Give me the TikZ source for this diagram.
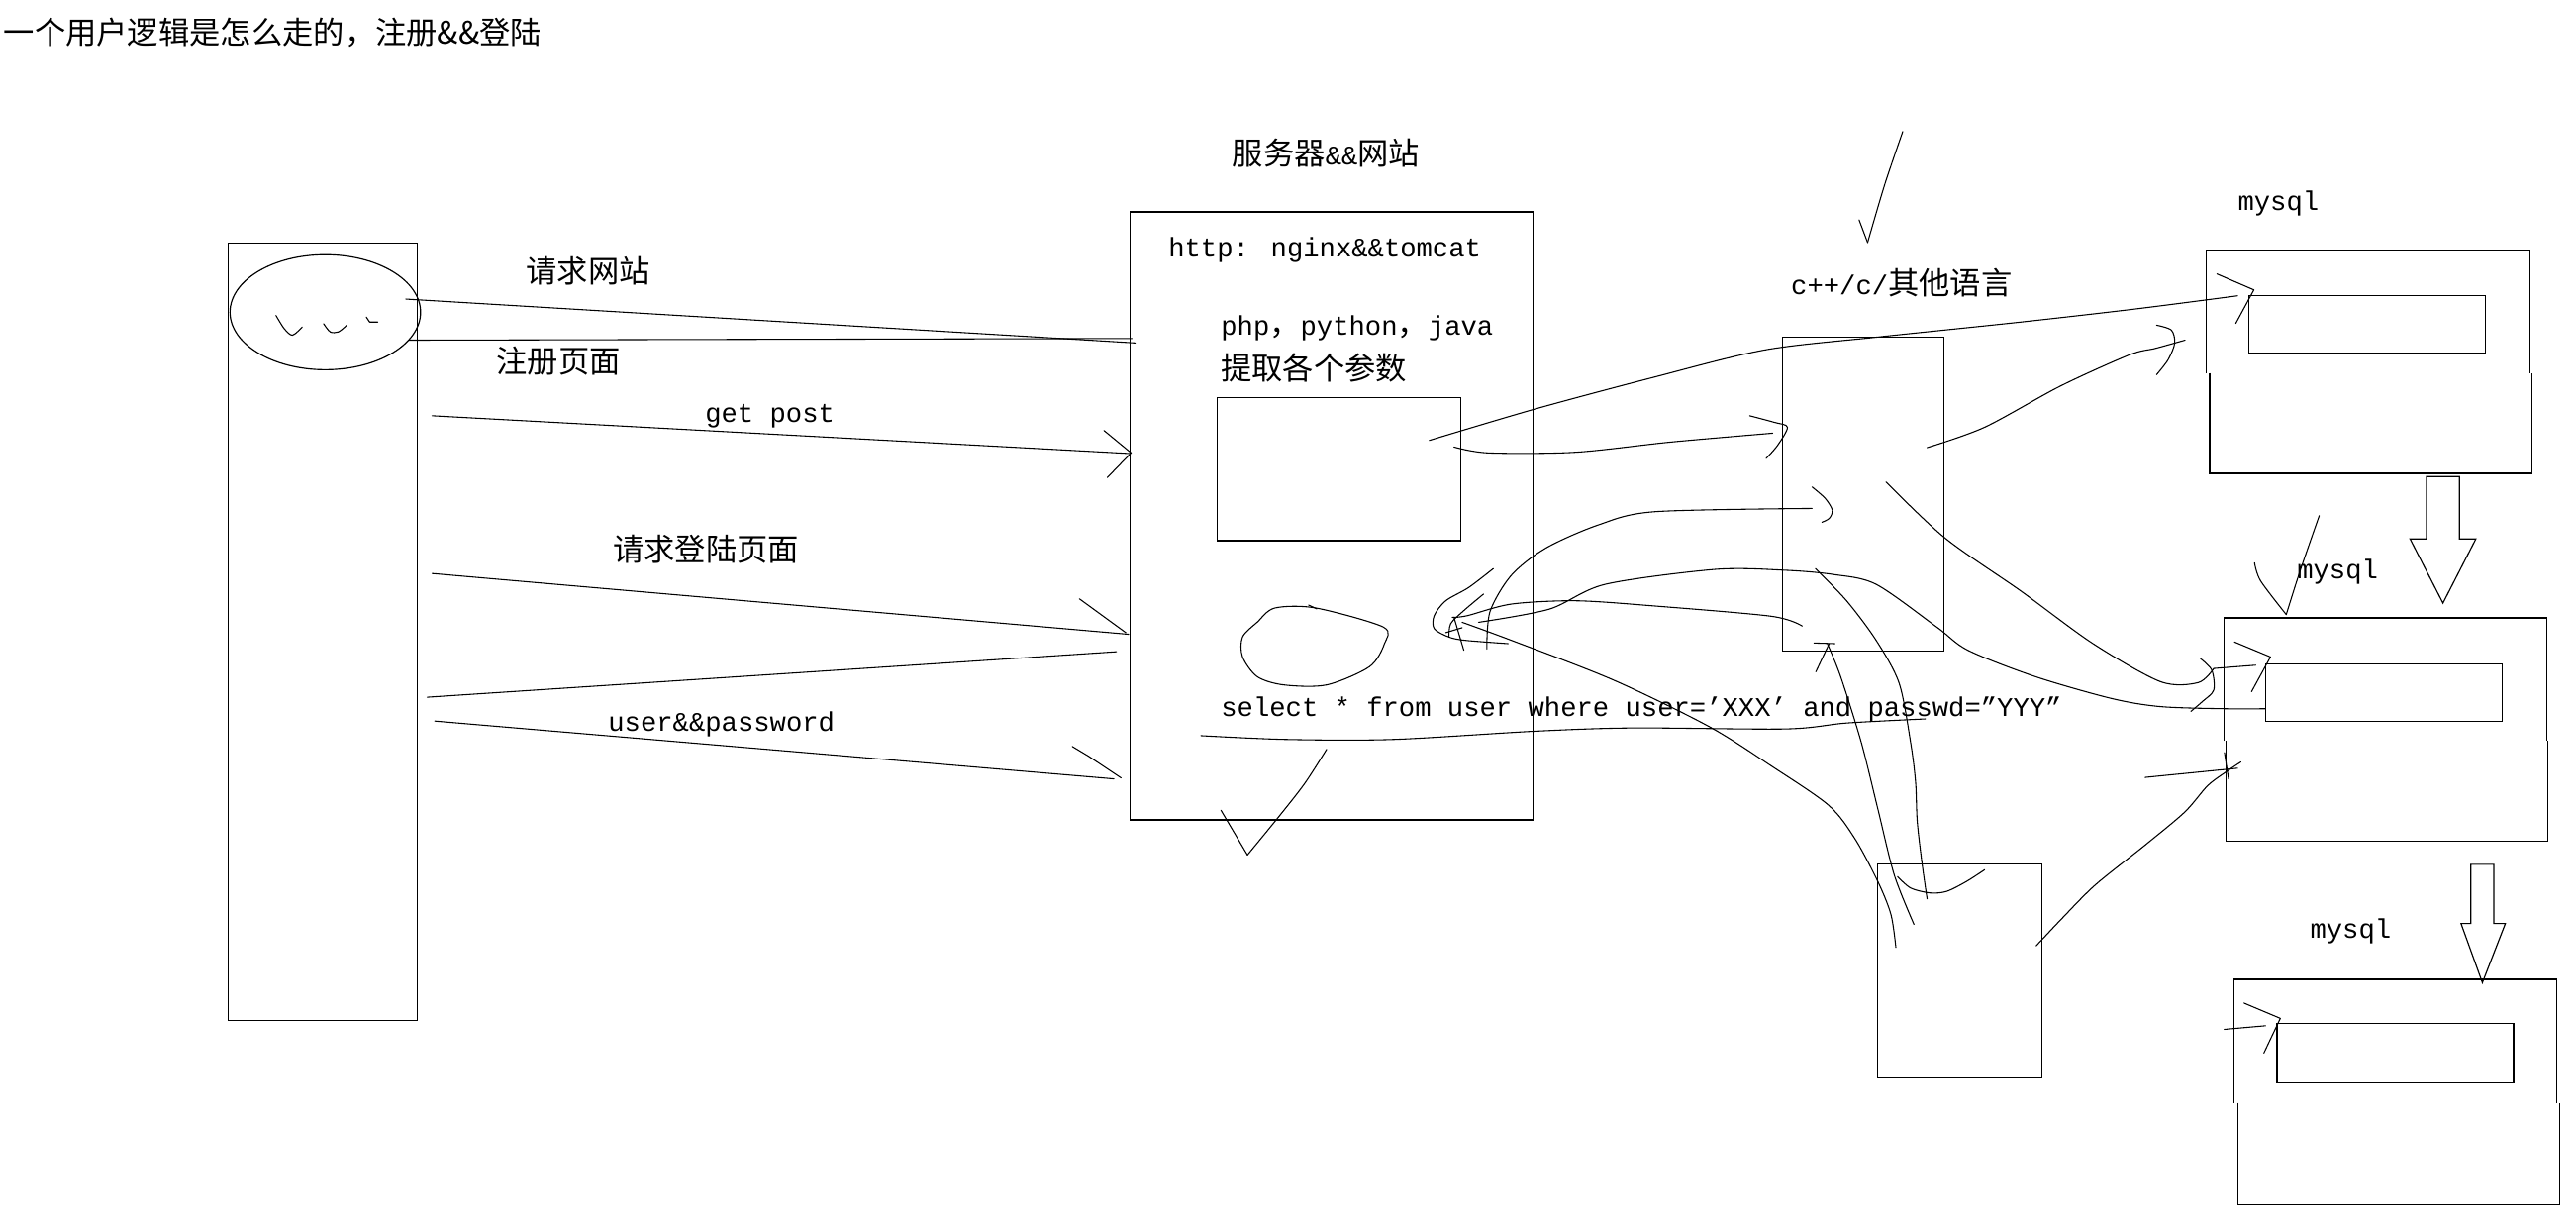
\documentclass[tikz,border=0pt]{standalone}
\usepackage{fontspec}
\setmainfont{Liberation Mono}
\newfontfamily\cjk{Noto Sans CJK SC}[Scale=1.15]
\usetikzlibrary{fit, shapes.geometric}

\begin{document}
\begin{tikzpicture}[
  x=0.3mm, y=-0.3mm,
  box/.style={draw, line width=0.6pt, inner sep=0pt},
  frame/.style={line width=0.6pt},
  lbl/.style={anchor=west, inner sep=0pt, font=\fontsize{14}{16}\selectfont},
  hand/.style={line width=0.55pt, line cap=round, line join=round},
]
  \useasboundingbox (0,0) rectangle (1568,739);

  % labels
  \node[lbl] (title)  at (2,20)    {\cjk 一个用户逻辑是怎么走的，注册\&\&登陆};
  \node[lbl] (srvlbl) at (750,93)  {{\cjk 服务器}\&\&{\cjk 网站}};
  \node[lbl] (req)    at (320,165) {\cjk 请求网站};
  \node[lbl] (reg)    at (302,220) {\cjk 注册页面};
  \node[lbl] (getpost) at (429,253) {get post};
  \node[lbl] (reqlog) at (373,334) {\cjk 请求登陆页面};
  \node[lbl] (userpw) at (370,441) {user\&\&password};
  \node[lbl] (http)   at (711,152) {http: nginx\&\&tomcat};
  \node[lbl] (langs)  at (743,200) {php{\cjk ，}python{\cjk ，}java};
  \node[lbl] (params) at (743,224) {\cjk 提取各个参数};
  \node[lbl] (sql)    at (743,432) {select * from user where user=’XXX’ and passwd=”YYY”};
  \node[lbl] (clang)  at (1090,172) {c++/c/{\cjk 其他语言}};
  \node[lbl] (dbA)    at (1362,124) {mysql};
  \node[lbl] (dbB)    at (1398,348) {mysql};
  \node[lbl] (dbC)    at (1406,567) {mysql};

  % boxes
  \node[box, fit={(139,148) (254,621)}] (client) {};
  \node[box, ellipse, minimum width=34.8mm, minimum height=21mm] (face) at (198,190) {};
  \node[box, fit={(688,129) (933,499)}] (server) {};
  \node[box, fit={(741,242) (889,329)}] (parse) {};
  \node[box, fit={(1085,205) (1183,396)}] (cbox) {};
  \node[box, fit={(1143,526) (1243,656)}] (lowbox) {};
  \node[box, fit={(1369,180) (1513,215)}] (tabA) {};
  \node[box, fit={(1379,404) (1523,439)}] (tabB) {};
  \node[box, fit={(1386,623) (1530,659)}] (tabC) {};

  % mysql frames, drawn in two halves
  \draw[frame] (1343,227) |- (1540,152) -- (1540,227);
  \draw[frame] (1345,227) |- (1541,288) -- (1541,227);
  \draw[frame] (1354,451) |- (1550,376) -- (1550,451);
  \draw[frame] (1355,451) |- (1551,512) -- (1551,451);
  \draw[frame] (1360,671) |- (1556,596) -- (1556,671);
  \draw[frame] (1362,671) |- (1558,733) -- (1558,671);

  % block arrows
  \draw[frame] (1477,290) -- (1477,328) -- (1467,328) -- (1487,367)
    -- (1507,328) -- (1497,328) -- (1497,290) -- cycle;
  \draw[frame] (1504,526) -- (1504,562) -- (1498,562) -- (1511,598)
    -- (1525,562) -- (1518,562) -- (1518,526) -- cycle;

  % face scribbles
  \draw[hand] plot[smooth] coordinates {(168,192) (173,200) (178,204) (184,199)};
  \draw[hand] plot[smooth] coordinates {(197,197) (201,202) (206,202) (211,198)};
  \draw[hand] (223,193) -- (225,196) -- (230,196);

  % client <-> server
  \draw[hand] (247,182) -- (691,208.7);
  \draw[hand] (249,207) -- (689,206);
  \draw[hand] (263,253) -- (688,276);
  \draw[hand] (672,262) -- (688.5,275.6) -- (674,290.6);
  \draw[hand] (263,349) -- (687,386);
  \draw[hand] (657,364.4) -- (685.4,385.1);
  \draw[hand] (260,424.3) -- (679.6,396.6);
  \draw[hand] (264.6,438.8) -- (678,474);
  \draw[hand] (652.7,454.3) -- (662.4,460.1) -- (682.4,473.4);

  % blob inside server
  \draw[hand] plot[smooth cycle] coordinates {(776,370) (801,370) (842,381.6)
    (842.7,391.7) (833.6,405.7) (807.5,416.8) (781.4,416.8) (765.3,411.8)
    (756.3,399.7) (756.3,387.7) (765.3,378.6)};
  \draw[hand] (796.5,368.2) -- (801.5,370.5);

  % sql underline and checkmarks
  \draw[hand] plot[smooth] coordinates {(731,447.7) (783,450) (848,450)
    (934,445) (994,443) (1087,443.6) (1124,440) (1172,437.5)};
  \draw[hand] (743.2,493.1) -- (759.3,520.3);
  \draw[hand] plot[smooth] coordinates {(759.3,520.3) (777.4,498.2) (794,477) (807.5,456)};
  \draw[hand] (1131.6,133.8) -- (1136.8,147.6);
  \draw[hand] plot[smooth] coordinates {(1136.8,147.6) (1147.2,112.3) (1158.2,80)};
  \draw[hand] plot[smooth] coordinates {(1372.3,342.5) (1376,353.5) (1391.6,374)};
  \draw[hand] plot[smooth] coordinates {(1391.6,374) (1400,347.5) (1411.7,313.8)};

  % parse -> mysql A
  \draw[hand] plot[smooth] coordinates {(870,268) (934,249) (1005,230) (1074,213)
    (1144,205) (1230,196) (1300,188) (1362,180)};
  \draw[hand] (1349.4,166.7) -- (1371.9,176.4) -- (1360.9,196.8);

  % parse -> cbox
  \draw[hand] plot[smooth] coordinates {(885,272) (906,275.6) (959,275.2)
    (1017,269) (1079,263.6)};
  \draw[hand] plot[smooth] coordinates {(1065,253) (1080,257) (1088,260)
    (1082,271) (1075,279)};

  % blob <-> cbox
  \draw[hand] plot[smooth] coordinates {(905,395) (907,372) (920,350) (941,333.5)
    (973,319.4) (1007,311.4) (1103,309.4)};
  \draw[hand] plot[smooth] coordinates {(1103,296.3) (1111,303.3) (1115.3,310.4)
    (1113.5,315.4) (1109,317.8)};
  \draw[hand] plot[smooth] coordinates {(1097,381) (1078,375) (1005,368.6)
    (959,365.6) (920,367.6) (893,374.7) (884,375.7)};
  \draw[hand] plot[smooth] coordinates {(900,378.7) (943,370.7) (977,355.6)
    (1044,346.5) (1086,347) (1116,349.6) (1142,355.6) (1179,381.7) (1198,395.8)
    (1239,411.8) (1285,425) (1315,430) (1354,431.3) (1379,431.3)};

  % scribbled tip at the blob
  \draw[hand] plot[smooth] coordinates {(909,346) (894,357.5) (880,365.6)
    (873,374.6) (873,382.6) (882,387.7) (892,389.7) (918,391.7)};
  \draw[hand] plot[smooth] coordinates {(903,361.5) (891,371.6) (883,379.6) (882,387.7)};
  \draw[hand] (885,375.6) -- (891,395.7);
  \draw[hand] (880,385) -- (890,382);

  % blob -> lowbox
  \draw[hand] plot[smooth] coordinates {(890,378.7) (920,389.7) (982,413.8)
    (1040,442) (1078,466) (1113,490) (1129,510.3) (1143,536.4) (1151,556.5)
    (1154,576.6)};

  % cbox <-> lowbox
  \draw[hand] plot[smooth] coordinates {(1105,346) (1124,365.6) (1142,389.7)
    (1156,415.8) (1163,452) (1166,476) (1167,500) (1170,526) (1173,547)};
  \draw[hand] plot[smooth] coordinates {(1165,562.5) (1153,532.4) (1143,492.2)
    (1133,452) (1120.4,411.8) (1112.3,391.7)};
  \draw[hand] (1104.2,391.3) -- (1116.9,391.7);
  \draw[hand] (1113.4,391.7) -- (1105.3,408.8);
  \draw[hand] plot[smooth] coordinates {(1155,533.4) (1163,540.4) (1175,543.4)
    (1185,542.4) (1197,536.4) (1208,529.3)};

  % cbox -> mysql A
  \draw[hand] plot[smooth] coordinates {(1173,272.4) (1208,260) (1254,235)
    (1296,216) (1312,212) (1330,207)};
  \draw[hand] plot[smooth] coordinates {(1312.7,197.9) (1321.7,200.9)
    (1323.7,208.9) (1319.7,218.9) (1312.7,228)};

  % cbox -> mysql B
  \draw[hand] plot[smooth] coordinates {(1148,293.3) (1184,327.5) (1230,359.6)
    (1274,391.7) (1315,414.8) (1338,415.4) (1347.5,406.8)};
  \draw[hand] (1347.5,406.8) -- (1373,404.8);
  \draw[hand] plot[smooth] coordinates {(1339.4,400.8) (1346.3,407.8)
    (1347.5,419.9) (1340.6,426.9) (1333.6,432.9)};
  \draw[hand] (1360.1,390.7) -- (1382,399.8) -- (1370.5,420.9);

  % lowbox -> mysql B
  \draw[hand] plot[smooth] coordinates {(1239.4,575.6) (1255.5,558.5)
    (1275.5,538.4) (1305.7,514.3) (1329.8,494.2) (1343.8,478.1) (1355.9,469.1)
    (1364,463.7)};
  \draw[hand] (1305.7,473.1) -- (1362,467.5);
  \draw[hand] (1354,458) -- (1356.5,474);

  % into mysql C
  \draw[hand] (1353.9,626.4) -- (1379,624.2);
  \draw[hand] (1365.9,610.4) -- (1388,619.7) -- (1378,640.8);
\end{tikzpicture}
\end{document}
